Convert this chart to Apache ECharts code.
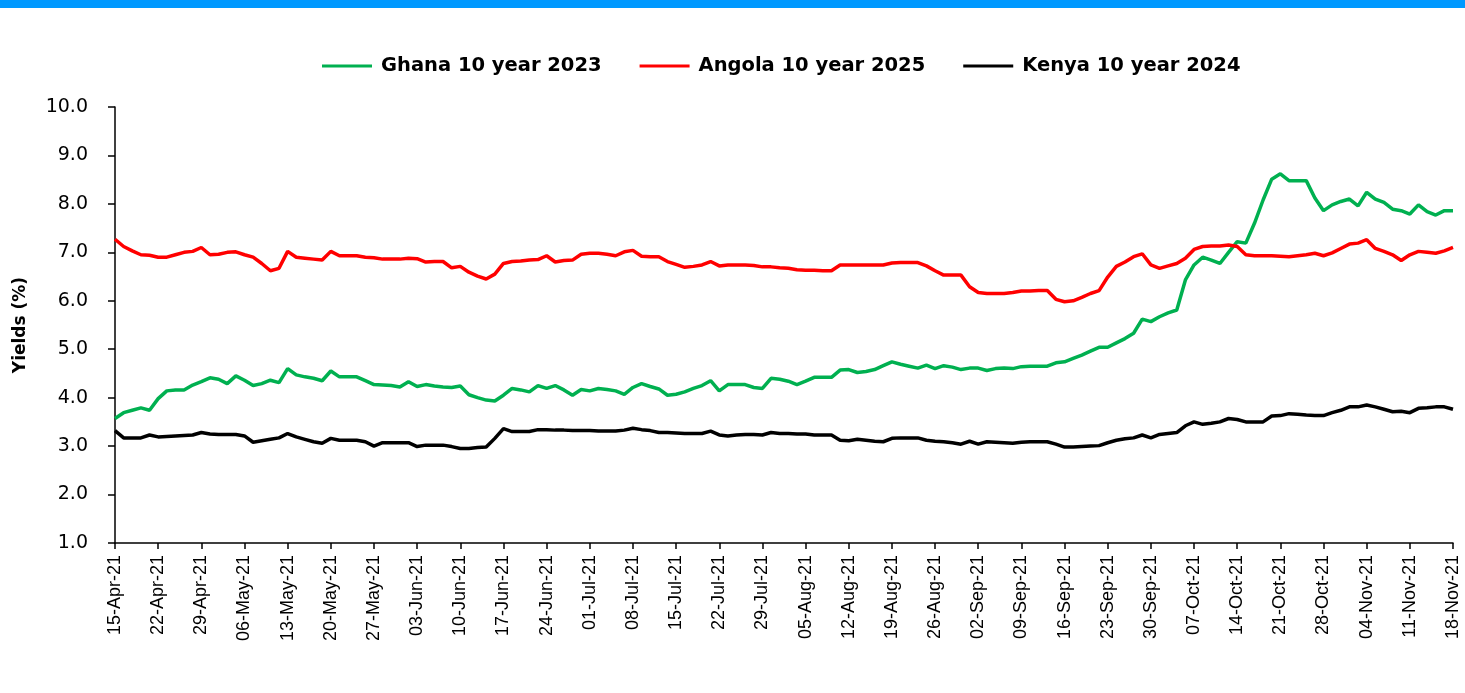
<!DOCTYPE html>
<html>
<head>
<meta charset="utf-8">
<script src="https://cdn.jsdelivr.net/npm/echarts@6/dist/echarts.min.js"></script>
<style>
html,body{margin:0;padding:0;background:#fff;}
#chart{width:1465px;height:693px;}
</style>
</head>
<body>
<div id="chart"></div>
<script>
// Business days from 15-Apr-21 to 18-Nov-21 (156 trading days)
const startDate = '2021-04-15';
const endDate = '2021-11-18';
const seriesNames = ['Ghana 10 year 2023', 'Angola 10 year 2025', 'Kenya 10 year 2024'];
const monthNames = ['Jan','Feb','Mar','Apr','May','Jun','Jul','Aug','Sep','Oct','Nov','Dec'];

const ghana = [3.57,3.69,3.74,3.79,3.74,3.98,4.14,4.16,4.16,4.26,4.33,4.41,4.38,4.29,4.45,4.36,4.25,4.29,4.36,4.31,4.60,4.47,4.43,4.40,4.35,
4.55,4.43,4.43,4.43,4.35,4.27,4.26,4.25,4.22,4.33,4.23,4.27,4.24,4.22,4.21,4.24,4.06,4.00,3.95,3.93,4.05,4.19,4.16,4.12,4.25,4.19,
4.25,4.16,4.05,4.17,4.14,4.19,4.17,4.14,4.07,4.21,4.29,4.23,4.18,4.05,4.07,4.12,4.19,4.25,4.35,4.14,4.27,4.27,4.27,4.21,4.19,4.40,
4.38,4.34,4.27,4.34,4.42,4.42,4.42,4.57,4.58,4.52,4.54,4.58,4.66,4.74,4.69,4.65,4.61,4.67,4.60,4.66,4.63,4.58,4.61,4.61,4.56,4.60,
4.61,4.60,4.64,4.65,4.65,4.65,4.72,4.74,4.81,4.88,4.96,5.04,5.04,5.13,5.22,5.33,5.62,5.57,5.67,5.75,5.81,6.43,6.74,6.90,6.84,6.77,
7.00,7.22,7.19,7.60,8.08,8.51,8.62,8.48,8.48,8.48,8.12,7.86,7.98,8.05,8.10,7.96,8.24,8.10,8.03,7.89,7.86,7.79,7.98,7.84,7.77,7.86,7.86];

const angola = [7.27,7.12,7.03,6.95,6.94,6.90,6.90,6.95,7.00,7.02,7.10,6.95,6.96,7.00,7.01,6.95,6.90,6.77,6.62,6.67,7.02,6.90,6.88,6.86,6.84,
7.02,6.93,6.93,6.93,6.90,6.89,6.86,6.86,6.86,6.88,6.87,6.80,6.81,6.81,6.68,6.71,6.59,6.51,6.45,6.55,6.77,6.81,6.82,6.84,6.85,6.93,
6.80,6.83,6.84,6.96,6.98,6.98,6.96,6.93,7.01,7.04,6.92,6.91,6.91,6.81,6.75,6.69,6.71,6.74,6.81,6.72,6.74,6.74,6.74,6.73,6.70,6.70,
6.68,6.67,6.64,6.63,6.63,6.62,6.62,6.74,6.74,6.74,6.74,6.74,6.74,6.78,6.79,6.79,6.79,6.72,6.62,6.53,6.53,6.53,6.29,6.17,6.15,6.15,
6.15,6.17,6.20,6.20,6.21,6.21,6.03,5.98,6.00,6.07,6.15,6.21,6.49,6.71,6.80,6.91,6.97,6.74,6.67,6.72,6.77,6.88,7.06,7.12,7.13,7.13,
7.15,7.12,6.95,6.93,6.93,6.93,6.92,6.91,6.93,6.95,6.98,6.93,6.99,7.08,7.17,7.19,7.26,7.08,7.02,6.95,6.83,6.95,7.02,7.00,6.98,7.03,7.10];

const kenya = [3.32,3.17,3.17,3.17,3.23,3.19,3.20,3.21,3.22,3.23,3.28,3.25,3.24,3.24,3.24,3.21,3.08,3.11,3.14,3.17,3.26,3.19,3.14,3.09,3.06,
3.16,3.12,3.12,3.12,3.09,3.00,3.07,3.07,3.07,3.07,2.99,3.02,3.02,3.02,2.99,2.95,2.95,2.97,2.98,3.16,3.36,3.30,3.30,3.30,3.34,3.34,
3.33,3.33,3.32,3.32,3.32,3.31,3.31,3.31,3.33,3.37,3.34,3.32,3.28,3.28,3.27,3.26,3.26,3.26,3.31,3.23,3.21,3.23,3.24,3.24,3.23,3.28,
3.26,3.26,3.25,3.25,3.23,3.23,3.23,3.12,3.11,3.14,3.12,3.10,3.09,3.16,3.17,3.17,3.17,3.12,3.10,3.09,3.07,3.04,3.10,3.04,3.09,3.08,
3.07,3.06,3.08,3.09,3.09,3.09,3.04,2.98,2.98,2.99,3.00,3.01,3.07,3.12,3.15,3.17,3.23,3.17,3.24,3.26,3.28,3.42,3.50,3.45,3.47,3.50,
3.57,3.55,3.50,3.50,3.50,3.62,3.63,3.67,3.66,3.64,3.63,3.63,3.69,3.74,3.81,3.81,3.85,3.81,3.76,3.71,3.72,3.69,3.78,3.79,3.81,3.81,3.76];

const yTicks = [1,2,3,4,5,6,7,8,9,10];

// build category labels (weekdays)
const categories = [];
(function(){
  const d = new Date(startDate + 'T00:00:00Z');
  const e = new Date(endDate + 'T00:00:00Z');
  while (d <= e) {
    const wd = d.getUTCDay();
    if (wd !== 0 && wd !== 6) {
      const dd = String(d.getUTCDate()).padStart(2,'0');
      categories.push(dd + '-' + monthNames[d.getUTCMonth()] + '-' + String(d.getUTCFullYear()).slice(2));
    }
    d.setUTCDate(d.getUTCDate() + 1);
  }
})();

const colors = ['#00B050', '#FF0000', '#000000'];
const chart = echarts.init(document.getElementById('chart'), null, {renderer:'canvas'});
chart.setOption({
  animation: false,
  backgroundColor: '#ffffff',
  color: colors,
  graphic: [{
    type: 'rect', left: 0, top: 0,
    shape: {width: 1465, height: 8},
    style: {fill: '#0099FF'}
  }],
  legend: {
    top: 51,
    left: 317,
    itemWidth: 50,
    itemHeight: 3,
    itemGap: 38,
    icon: 'rect',
    textStyle: {fontFamily: 'DejaVu Sans', fontWeight: 'bold', fontSize: 19.5, color: '#000', padding: [0,0,0,4]},
    data: seriesNames
  },
  grid: {left: 115, right: 12, top: 107, bottom: 150, containLabel: false},
  xAxis: {
    type: 'category',
    data: categories,
    boundaryGap: false,
    axisLine: {lineStyle: {color: '#000', width: 1.5}},
    axisTick: {show: true, interval: 4, length: 6, lineStyle: {color: '#000', width: 1.5}},
    axisLabel: {interval: 4, rotate: 90, margin: 12, fontFamily: 'Liberation Sans', fontSize: 18, color: '#000'},
    splitLine: {show: false}
  },
  yAxis: {
    type: 'value',
    min: yTicks[0],
    max: yTicks[yTicks.length-1],
    interval: 1,
    name: 'Yields (%)',
    nameLocation: 'middle',
    nameGap: 86,
    nameTextStyle: {fontFamily: 'DejaVu Sans', fontWeight: 'bold', fontSize: 17, color: '#000'},
    axisLine: {show: true, lineStyle: {color: '#000', width: 1.5}},
    axisTick: {show: true, length: 7, lineStyle: {color: '#000', width: 1.5}},
    axisLabel: {margin: 27, fontFamily: 'DejaVu Sans', fontSize: 19, color: '#000', formatter: v => v.toFixed(1)},
    splitLine: {show: false}
  },
  series: [
    {name: seriesNames[0], type: 'line', data: ghana, showSymbol: false, lineStyle: {width: 3.5, color: colors[0]}, itemStyle: {color: colors[0]}},
    {name: seriesNames[1], type: 'line', data: angola, showSymbol: false, lineStyle: {width: 3.5, color: colors[1]}, itemStyle: {color: colors[1]}},
    {name: seriesNames[2], type: 'line', data: kenya, showSymbol: false, lineStyle: {width: 3.5, color: colors[2]}, itemStyle: {color: colors[2]}}
  ]
});
</script>
</body>
</html>
